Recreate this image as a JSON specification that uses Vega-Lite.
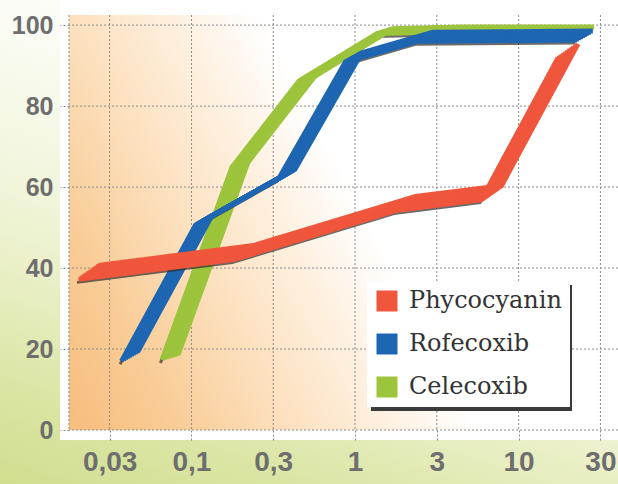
{
  "$schema": "https://vega.github.io/schema/vega-lite/v6.json",
  "width": 549,
  "height": 415,
  "autosize": {"type": "none"},
  "padding": {"left": 69, "top": 15, "right": 0, "bottom": 54},
  "background": "white",
  "config": {"view": {"stroke": null}},
  "datasets": {
    "ribbons": [
      {"drug": "Phycocyanin", "dose": 0.0204, "pct": 37.2},
      {"drug": "Phycocyanin", "dose": 0.181, "pct": 42.1},
      {"drug": "Phycocyanin", "dose": 1.77, "pct": 54.2},
      {"drug": "Phycocyanin", "dose": 5.93, "pct": 56.9},
      {"drug": "Phycocyanin", "dose": 17.4, "pct": 91.9},
      {"drug": "Rofecoxib", "dose": 0.0374, "pct": 17.0},
      {"drug": "Rofecoxib", "dose": 0.106, "pct": 50.6},
      {"drug": "Rofecoxib", "dose": 0.343, "pct": 62.2},
      {"drug": "Rofecoxib", "dose": 0.875, "pct": 90.9},
      {"drug": "Rofecoxib", "dose": 2.39, "pct": 96.0},
      {"drug": "Rofecoxib", "dose": 22.7, "pct": 96.3},
      {"drug": "Celecoxib", "dose": 0.0661, "pct": 17.3},
      {"drug": "Celecoxib", "dose": 0.177, "pct": 64.9},
      {"drug": "Celecoxib", "dose": 0.455, "pct": 86.2},
      {"drug": "Celecoxib", "dose": 1.36, "pct": 97.9},
      {"drug": "Celecoxib", "dose": 3.55, "pct": 98.3},
      {"drug": "Celecoxib", "dose": 23.1, "pct": 98.3}
    ]
  },
  "layer": [
    {
      "data": {"values": [{}]},
      "mark": {"type": "rect", "strokeWidth": 0, "fill": {"gradient": "linear", "x1": 0, "y1": 1, "x2": 0.45, "y2": 0, "stops": [{"offset": 0, "color": "#cfdd8c"}, {"offset": 0.2, "color": "#dbe6a6"}, {"offset": 0.4, "color": "#ebf0c9"}, {"offset": 0.55, "color": "#f2f6de"}, {"offset": 0.8, "color": "#fbfcf4"}, {"offset": 1, "color": "#ffffff"}]}},
      "encoding": {
        "x": {"datum": 0.005, "type": "quantitative", "scale": {"type": "log", "domain": [0.01785, 40.5], "nice": false}},
        "x2": {"datum": 60},
        "y": {"datum": -15, "type": "quantitative", "scale": {"domain": [0, 102.5], "nice": false, "zero": false}},
        "y2": {"datum": 110}
      }
    },
    {
      "data": {"values": [{}]},
      "mark": {"type": "rect", "strokeWidth": 0, "fill": "#ffffff"},
      "encoding": {
        "x": {"datum": 0.01573, "type": "quantitative"},
        "x2": {"datum": 60},
        "y": {"datum": -2.47, "type": "quantitative"},
        "y2": {"datum": 110}
      }
    },
    {
      "data": {"values": [{}]},
      "mark": {"type": "rect", "strokeWidth": 0, "fill": {"gradient": "linear", "x1": 0, "y1": 1, "x2": 0.85, "y2": 0.66, "stops": [{"offset": 0, "color": "#f7bd7c"}, {"offset": 0.2, "color": "#f9cc96"}, {"offset": 0.4, "color": "#fce0bd"}, {"offset": 0.58, "color": "#feefdd"}, {"offset": 0.76, "color": "#ffffff"}, {"offset": 1, "color": "#ffffff"}]}},
      "encoding": {
        "x": {"datum": 0.01785, "type": "quantitative"},
        "x2": {"datum": 40.5},
        "y": {"datum": 0, "type": "quantitative"},
        "y2": {"datum": 102.5}
      }
    },
    {
      "data": {"values": [{"g": 0.01785}, {"g": 0.031623}, {"g": 0.1}, {"g": 0.31623}, {"g": 1}, {"g": 3.1623}, {"g": 10}, {"g": 31.623}]},
      "mark": {"type": "rule", "color": "#8a8a8a", "strokeDash": [2, 2], "strokeWidth": 1},
      "encoding": {
        "x": {"field": "g", "type": "quantitative", "scale": {"type": "log", "domain": [0.01785, 40.5], "nice": false},
          "axis": {"title": null, "values": [0.031623, 0.1, 0.31623, 1, 3.1623, 10, 31.623],
            "labelExpr": "datum.value < 0.05 ? '0,03' : datum.value < 0.2 ? '0,1' : datum.value < 0.5 ? '0,3' : datum.value < 2 ? '1' : datum.value < 5 ? '3' : datum.value < 20 ? '10' : '30'",
            "grid": false, "domain": false, "ticks": true, "tickSize": 12, "tickColor": "#8a8a8a", "tickDash": [2, 2], "tickWidth": 1,
            "labelFont": "Liberation Sans", "labelFontWeight": "bold", "labelFontSize": 28, "labelColor": "#6e6e6e", "labelPadding": 6,
            "labelFlush": false, "labelOverlap": false, "zindex": 1}}
      }
    },
    {
      "data": {"values": [{"g": 0}, {"g": 20}, {"g": 40}, {"g": 60}, {"g": 80}, {"g": 100}]},
      "mark": {"type": "rule", "color": "#8a8a8a", "strokeDash": [2, 2], "strokeWidth": 1},
      "encoding": {
        "y": {"field": "g", "type": "quantitative", "scale": {"domain": [0, 102.5], "nice": false, "zero": false},
          "axis": {"title": null, "values": [0, 20, 40, 60, 80, 100], "grid": false, "domain": false, "ticks": true, "tickSize": 9,
            "tickColor": "#8a8a8a", "tickDash": [2, 2], "tickWidth": 1,
            "labelFont": "Liberation Sans", "labelFontWeight": "bold", "labelFontSize": 25, "labelColor": "#6e6e6e", "labelPadding": 7, "zindex": 1}}
      }
    },
    {
      "data": {"name": "ribbons"},
      "transform": [{"filter": "datum.drug == 'Celecoxib'"}],
      "encoding": {
        "x": {"field": "dose", "type": "quantitative"},
        "y": {"field": "pct", "type": "quantitative"},
        "color": {"field": "drug", "type": "nominal",
          "scale": {"domain": ["Phycocyanin", "Rofecoxib", "Celecoxib"], "range": ["#f0563c", "#1e66b2", "#9cc43c"]},
          "legend": {"orient": "none", "legendX": 298, "legendY": 266, "direction": "vertical", "title": null,
            "fillColor": "#ffffff", "padding": 8, "rowPadding": 19, "labelFont": "DejaVu Serif", "labelFontSize": 24,
            "labelColor": "#333333", "labelOffset": 10, "labelLimit": 400, "symbolType": "square", "symbolSize": 441,
            "symbolStrokeWidth": 0, "symbolOpacity": 1,
            "encode": {"symbols": {"update": {"fill": {"scale": "color", "field": "value"}, "fillOpacity": {"value": 1}, "strokeWidth": {"value": 0}}}}}}
      },
      "layer": [
        {"mark": {"type": "line", "strokeWidth": 3, "xOffset": -1.5, "yOffset": 3, "opacity": 0.7, "strokeJoin": "miter"}, "encoding": {"color": {"value": "#2e2e2e"}}},
        {"mark": {"type": "line", "strokeWidth": 5, "xOffset": 0, "yOffset": 0, "strokeJoin": "miter", "strokeCap": "butt"}},
        {"mark": {"type": "line", "strokeWidth": 5, "xOffset": 2, "yOffset": -0.625, "strokeJoin": "miter", "strokeCap": "butt"}},
        {"mark": {"type": "line", "strokeWidth": 5, "xOffset": 4, "yOffset": -1.25, "strokeJoin": "miter", "strokeCap": "butt"}},
        {"mark": {"type": "line", "strokeWidth": 5, "xOffset": 6, "yOffset": -1.875, "strokeJoin": "miter", "strokeCap": "butt"}},
        {"mark": {"type": "line", "strokeWidth": 5, "xOffset": 8, "yOffset": -2.5, "strokeJoin": "miter", "strokeCap": "butt"}},
        {"mark": {"type": "line", "strokeWidth": 5, "xOffset": 10, "yOffset": -3.125, "strokeJoin": "miter", "strokeCap": "butt"}},
        {"mark": {"type": "line", "strokeWidth": 5, "xOffset": 12, "yOffset": -3.75, "strokeJoin": "miter", "strokeCap": "butt"}},
        {"mark": {"type": "line", "strokeWidth": 5, "xOffset": 14, "yOffset": -4.375, "strokeJoin": "miter", "strokeCap": "butt"}},
        {"mark": {"type": "line", "strokeWidth": 5, "xOffset": 16, "yOffset": -5, "strokeJoin": "miter", "strokeCap": "butt"}}
      ]
    },
    {
      "data": {"name": "ribbons"},
      "transform": [{"filter": "datum.drug == 'Rofecoxib'"}],
      "encoding": {
        "x": {"field": "dose", "type": "quantitative"},
        "y": {"field": "pct", "type": "quantitative"},
        "color": {"field": "drug", "type": "nominal"}
      },
      "layer": [
        {"mark": {"type": "line", "strokeWidth": 3, "xOffset": -1.5, "yOffset": 3, "opacity": 0.7, "strokeJoin": "miter"}, "encoding": {"color": {"value": "#2e2e2e"}}},
        {"mark": {"type": "line", "strokeWidth": 5, "xOffset": 0, "yOffset": 0, "strokeJoin": "miter", "strokeCap": "butt"}},
        {"mark": {"type": "line", "strokeWidth": 5, "xOffset": 2, "yOffset": -1.125, "strokeJoin": "miter", "strokeCap": "butt"}},
        {"mark": {"type": "line", "strokeWidth": 5, "xOffset": 4, "yOffset": -2.25, "strokeJoin": "miter", "strokeCap": "butt"}},
        {"mark": {"type": "line", "strokeWidth": 5, "xOffset": 6, "yOffset": -3.375, "strokeJoin": "miter", "strokeCap": "butt"}},
        {"mark": {"type": "line", "strokeWidth": 5, "xOffset": 8, "yOffset": -4.5, "strokeJoin": "miter", "strokeCap": "butt"}},
        {"mark": {"type": "line", "strokeWidth": 5, "xOffset": 10, "yOffset": -5.625, "strokeJoin": "miter", "strokeCap": "butt"}},
        {"mark": {"type": "line", "strokeWidth": 5, "xOffset": 12, "yOffset": -6.75, "strokeJoin": "miter", "strokeCap": "butt"}},
        {"mark": {"type": "line", "strokeWidth": 5, "xOffset": 14, "yOffset": -7.875, "strokeJoin": "miter", "strokeCap": "butt"}},
        {"mark": {"type": "line", "strokeWidth": 5, "xOffset": 16, "yOffset": -9, "strokeJoin": "miter", "strokeCap": "butt"}}
      ]
    },
    {
      "data": {"name": "ribbons"},
      "transform": [{"filter": "datum.drug == 'Phycocyanin'"}],
      "encoding": {
        "x": {"field": "dose", "type": "quantitative"},
        "y": {"field": "pct", "type": "quantitative"},
        "color": {"field": "drug", "type": "nominal"}
      },
      "layer": [
        {"mark": {"type": "line", "strokeWidth": 3, "xOffset": -1.5, "yOffset": 3, "opacity": 0.7, "strokeJoin": "miter"}, "encoding": {"color": {"value": "#2e2e2e"}}},
        {"mark": {"type": "line", "strokeWidth": 5, "xOffset": 0, "yOffset": 0, "strokeJoin": "miter", "strokeCap": "butt"}},
        {"mark": {"type": "line", "strokeWidth": 5, "xOffset": 2, "yOffset": -1.4, "strokeJoin": "miter", "strokeCap": "butt"}},
        {"mark": {"type": "line", "strokeWidth": 5, "xOffset": 4, "yOffset": -2.8, "strokeJoin": "miter", "strokeCap": "butt"}},
        {"mark": {"type": "line", "strokeWidth": 5, "xOffset": 6, "yOffset": -4.2, "strokeJoin": "miter", "strokeCap": "butt"}},
        {"mark": {"type": "line", "strokeWidth": 5, "xOffset": 8, "yOffset": -5.6, "strokeJoin": "miter", "strokeCap": "butt"}},
        {"mark": {"type": "line", "strokeWidth": 5, "xOffset": 10, "yOffset": -7, "strokeJoin": "miter", "strokeCap": "butt"}},
        {"mark": {"type": "line", "strokeWidth": 5, "xOffset": 12, "yOffset": -8.4, "strokeJoin": "miter", "strokeCap": "butt"}},
        {"mark": {"type": "line", "strokeWidth": 5, "xOffset": 14, "yOffset": -9.8, "strokeJoin": "miter", "strokeCap": "butt"}},
        {"mark": {"type": "line", "strokeWidth": 5, "xOffset": 16, "yOffset": -11.2, "strokeJoin": "miter", "strokeCap": "butt"}},
        {"mark": {"type": "line", "strokeWidth": 5, "xOffset": 18, "yOffset": -12.6, "strokeJoin": "miter", "strokeCap": "butt"}},
        {"mark": {"type": "line", "strokeWidth": 5, "xOffset": 20, "yOffset": -14, "strokeJoin": "miter", "strokeCap": "butt"}}
      ]
    },
    {
      "data": {"values": [{}]},
      "mark": {"type": "rect", "strokeWidth": 0, "fill": "#3a3a3a"},
      "encoding": {
        "x": {"datum": 1.252, "type": "quantitative"},
        "x2": {"datum": 21.2},
        "y": {"datum": 4.69, "type": "quantitative"},
        "y2": {"datum": 35.8}
      }
    }
  ]
}
